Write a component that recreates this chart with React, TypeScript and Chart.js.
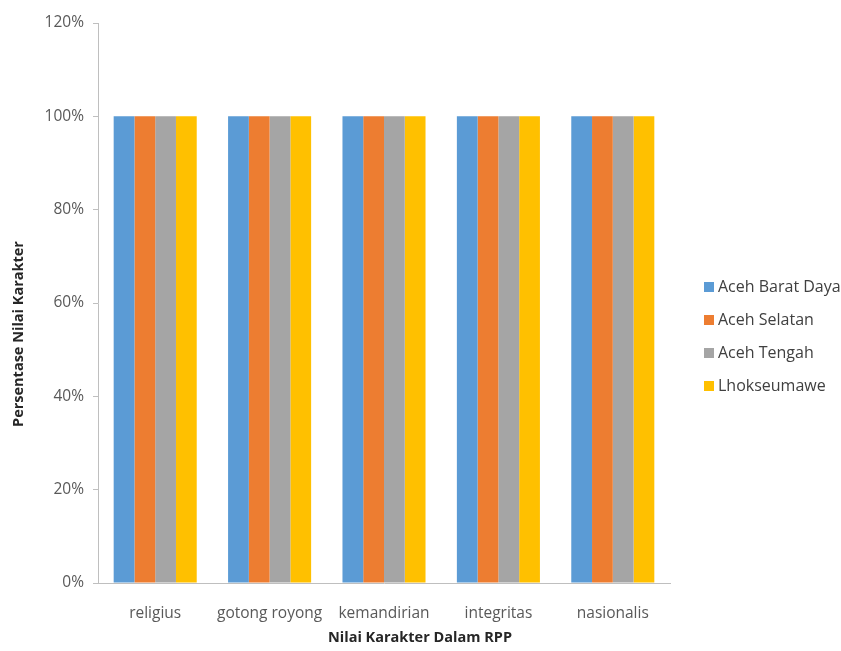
import React, { useEffect, useRef } from "react";
import { Chart, registerables } from "chart.js";
Chart.register(...registerables);

const categories = ["religius", "gotong royong", "kemandirian", "integritas", "nasionalis"];
const seriesNames = ["Aceh Barat Daya", "Aceh Selatan", "Aceh Tengah", "Lhokseumawe"];
const aceBaratDaya = [1, 1, 1, 1, 1];
const acehSelatan = [1, 1, 1, 1, 1];
const acehTengah = [1, 1, 1, 1, 1];
const lhokseumawe = [1, 1, 1, 1, 1];
const seriesColors = ["#5b9bd5", "#ed7d31", "#a5a5a5", "#ffc000"];
const yTicks = [0, 0.2, 0.4, 0.6, 0.8, 1.0, 1.2];
const xTitle = "Nilai Karakter Dalam RPP";
const yTitle = "Persentase Nilai Karakter";

const FONT = "'Open Sans', 'Liberation Sans', sans-serif";

const customDraw = {
  id: "customDraw",
  afterDraw(chart: any) {
    const ctx = chart.ctx;
    ctx.save();
    // legend
    ctx.font = `16px ${FONT}`;
    ctx.textBaseline = "middle";
    ctx.textAlign = "left";
    const lx = 704;
    const ly0 = 287;
    const step = 33;
    chart.data.datasets.forEach((ds: any, i: number) => {
      const y = ly0 + i * step;
      ctx.fillStyle = ds.backgroundColor;
      ctx.fillRect(lx, y - 5, 10, 10);
      ctx.fillStyle = "#404040";
      ctx.fillText(ds.label, lx + 14, y);
    });
    // axis titles
    ctx.font = `bold 14.5px ${FONT}`;
    ctx.fillStyle = "#262626";
    ctx.textAlign = "center";
    ctx.fillText(xTitle, 420, 638);
    ctx.translate(19, 334);
    ctx.rotate(-Math.PI / 2);
    ctx.fillText(yTitle, 0, 0);
    ctx.restore();
  },
};

export default function App() {
  const ref = useRef<HTMLCanvasElement>(null);
  useEffect(() => {
    document.body.style.margin = "0";
    const values = [aceBaratDaya, acehSelatan, acehTengah, lhokseumawe];
    const chart = new Chart(ref.current!, {
      type: "bar",
      data: {
        labels: categories,
        datasets: seriesNames.map((name, i) => ({
          label: name,
          data: values[i],
          backgroundColor: seriesColors[i],
          categoryPercentage: 0.726,
          barPercentage: 1,
        })),
      },
      options: {
        responsive: false,
        animation: false,
        layout: { padding: { left: 0, right: 171, top: 23, bottom: 0 } },
        plugins: { legend: { display: false }, tooltip: { enabled: false } },
        scales: {
          x: {
            grid: { display: false },
            border: { display: true, color: "#bfbfbf" },
            ticks: {
              color: "#595959",
              font: { family: FONT, size: 15.5 },
              padding: 13,
              maxRotation: 0,
              minRotation: 0,
              autoSkip: false,
            },
            afterFit(scale: any) {
              scale.height = 651 - 583;
            },
          },
          y: {
            min: 0,
            max: 1.2,
            afterBuildTicks(scale: any) {
              scale.ticks = yTicks.map((v) => ({ value: v }));
            },
            grid: { drawOnChartArea: false, drawTicks: true, tickLength: 5, color: "#bfbfbf" },
            border: { display: true, color: "#bfbfbf" },
            ticks: {
              color: "#595959",
              font: { family: FONT, size: 15.5 },
              padding: 9,
              callback: (v: any) => Math.round(Number(v) * 100) + "%",
            },
            afterFit(scale: any) {
              scale.width = 98;
            },
          },
        },
      },
      plugins: [customDraw],
    });
    return () => chart.destroy();
  }, []);
  return (
    <div style={{ position: "absolute", left: 0, top: 0, width: 841, height: 651, background: "#fff" }}>
      <canvas ref={ref} width={841} height={651} />
    </div>
  );
}
